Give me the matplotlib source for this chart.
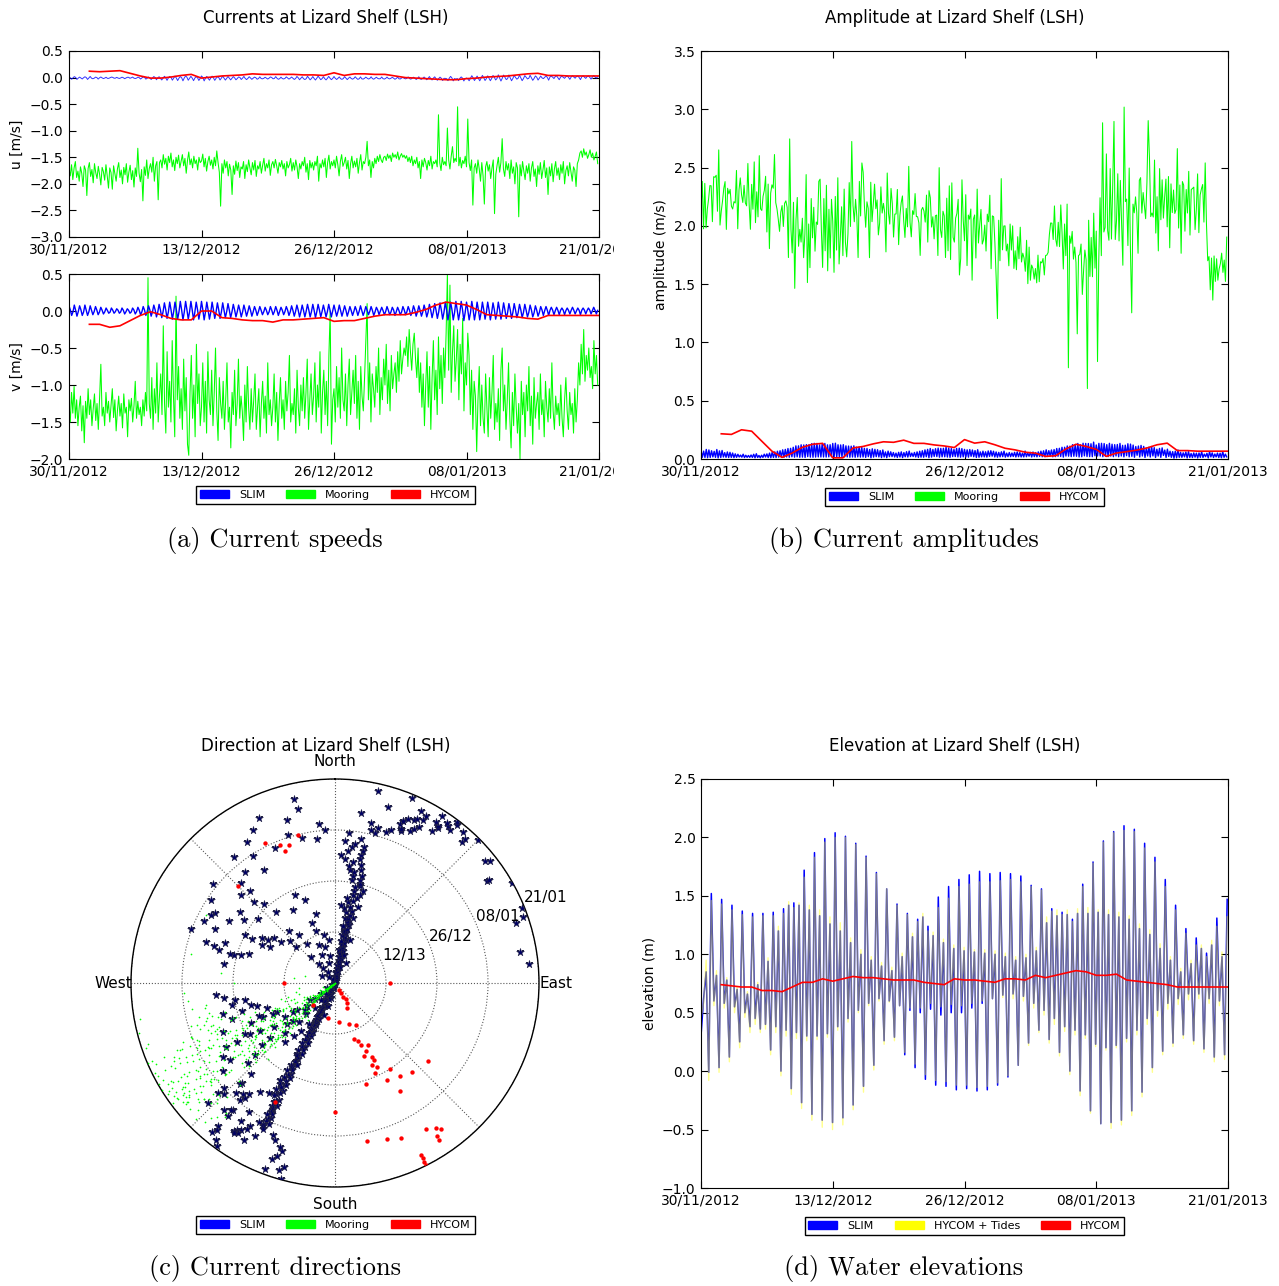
import numpy as np
import matplotlib.pyplot as plt
from matplotlib.patches import Patch
from matplotlib.transforms import Bbox, TransformedBbox
from datetime import datetime, timedelta

# ---- time axis ------------------------------------------------------------
start = datetime(2012, 11, 30)
tick_days = [0, 13, 26, 39, 52]
tick_labels = [(start + timedelta(days=d)).strftime('%d/%m/%Y') for d in tick_days]
ring_labels = ['12/13', '26/12', '08/01', '21/01']

# ---- SLIM currents: one entry per tidal cycle (flood, slack, ebb, slack) ---
slim_v_flood = [0.07, 0.08, 0.07, 0.08, 0.07, 0.06, 0.05, 0.04, 0.04, 0.03,
                0.04, 0.03, 0.04, 0.05, 0.06, 0.07, 0.08, 0.09, 0.11, 0.12,
                0.12, 0.13, 0.13, 0.13, 0.12, 0.13, 0.12, 0.12, 0.11, 0.11,
                0.10, 0.09, 0.08, 0.08, 0.07, 0.06, 0.06, 0.05, 0.06, 0.06,
                0.05, 0.06, 0.07, 0.08, 0.08, 0.09, 0.09, 0.09, 0.08, 0.09,
                0.08, 0.08, 0.07, 0.06, 0.06, 0.07, 0.06, 0.06, 0.05, 0.05,
                0.06, 0.05, 0.05, 0.06, 0.06, 0.07, 0.07, 0.08, 0.09, 0.10,
                0.11, 0.12, 0.12, 0.13, 0.13, 0.12, 0.13, 0.12, 0.12, 0.12,
                0.11, 0.12, 0.11, 0.10, 0.10, 0.09, 0.09, 0.08, 0.07, 0.06,
                0.06, 0.05, 0.05, 0.04, 0.04, 0.05, 0.04, 0.04, 0.04, 0.05]
slim_u_flood = [0.012, 0.018, 0.009, 0.015, 0.021, 0.008, 0.011, 0.006, 0.009, 0.004,
                0.007, 0.005, 0.010, 0.008, 0.013, 0.011, 0.019, 0.016, 0.024, 0.021,
                0.028, 0.019, 0.032, 0.024, 0.017, 0.030, 0.022, 0.027, 0.015, 0.026,
                0.021, 0.018, 0.012, 0.022, 0.016, 0.009, 0.014, 0.006, 0.012, 0.018,
                0.008, 0.013, 0.010, 0.021, 0.016, 0.025, 0.019, 0.028, 0.017, 0.023,
                0.020, 0.013, 0.017, 0.010, 0.015, 0.012, 0.008, 0.014, 0.006, 0.011,
                0.009, 0.004, 0.010, 0.003, 0.012, 0.007, 0.015, 0.010, 0.019, 0.014,
                0.008, -0.015, 0.022, -0.030, 0.012, -0.008, 0.035, 0.028, 0.041, 0.033,
                0.040, 0.052, 0.047, 0.049, 0.041, 0.046, 0.038, 0.043, 0.031, 0.029,
                0.030, 0.027, 0.033, 0.025, 0.030, 0.036, 0.028, 0.034, 0.031, 0.038]
slim_v_ebb = [-0.06, -0.07, -0.06, -0.06, -0.05, -0.05, -0.04, -0.03, -0.03, -0.03,
              -0.04, -0.03, -0.04, -0.05, -0.06, -0.07, -0.08, -0.09, -0.10, -0.11,
              -0.11, -0.12, -0.11, -0.12, -0.11, -0.12, -0.11, -0.10, -0.10, -0.09,
              -0.09, -0.08, -0.08, -0.07, -0.07, -0.06, -0.05, -0.05, -0.05, -0.06,
              -0.05, -0.06, -0.07, -0.08, -0.08, -0.08, -0.09, -0.08, -0.08, -0.08,
              -0.07, -0.07, -0.07, -0.06, -0.06, -0.06, -0.05, -0.06, -0.05, -0.05,
              -0.05, -0.06, -0.05, -0.05, -0.06, -0.07, -0.07, -0.08, -0.09, -0.10,
              -0.11, -0.12, -0.12, -0.12, -0.13, -0.12, -0.12, -0.12, -0.11, -0.12,
              -0.11, -0.11, -0.10, -0.10, -0.09, -0.09, -0.08, -0.08, -0.07, -0.06,
              -0.06, -0.05, -0.05, -0.05, -0.04, -0.04, -0.05, -0.04, -0.04, -0.04]
slim_u_ebb = [-0.031, -0.034, -0.026, -0.035, -0.022, -0.028, -0.019, -0.015, -0.012, -0.017,
              -0.021, -0.013, -0.018, -0.027, -0.029, -0.036, -0.041, -0.045, -0.052, -0.049,
              -0.056, -0.061, -0.050, -0.058, -0.054, -0.063, -0.049, -0.052, -0.046, -0.047,
              -0.044, -0.042, -0.036, -0.038, -0.033, -0.031, -0.024, -0.028, -0.023, -0.032,
              -0.026, -0.029, -0.035, -0.041, -0.037, -0.043, -0.046, -0.040, -0.044, -0.039,
              -0.036, -0.033, -0.038, -0.030, -0.034, -0.029, -0.027, -0.031, -0.024, -0.028,
              -0.025, -0.032, -0.027, -0.024, -0.030, -0.036, -0.033, -0.041, -0.045, -0.050,
              -0.055, -0.058, -0.062, -0.057, -0.064, -0.060, -0.056, -0.061, -0.055, -0.059,
              -0.045, -0.065, -0.038, -0.060, -0.030, -0.058, -0.025, -0.052, -0.047, -0.020,
              -0.049, -0.018, -0.040, -0.014, -0.033, -0.012, -0.038, -0.015, -0.029, -0.011]
slim_u_slack1 = [-0.004, 0.003, -0.008, 0.002, -0.012, 0.001, -0.006, -0.015, 0.004, -0.009,
                 -0.003, 0.005, -0.011, -0.002, 0.004, -0.007, 0.002, -0.013, -0.005, 0.003,
                 -0.008, -0.002, 0.006, -0.010, -0.004, 0.003, -0.014, -0.006, 0.002, -0.009,
                 -0.012, -0.005, 0.002, -0.016, -0.008, -0.003, -0.018, -0.011, 0.001, -0.014,
                 -0.019, -0.007, -0.013, -0.004, -0.021, -0.010, -0.017, -0.006, -0.020, -0.012,
                 -0.015, -0.022, -0.009, -0.018, -0.013, -0.024, -0.011, -0.019, -0.016, -0.021,
                 -0.017, -0.012, -0.023, -0.015, -0.020, -0.010, -0.025, -0.014, -0.019, -0.022,
                 -0.013, -0.021, -0.008, -0.018, -0.011, -0.024, -0.006, -0.016, -0.002, -0.012,
                 0.004, -0.010, 0.006, -0.005, 0.002, -0.008, 0.005, -0.003, 0.007, -0.006,
                 0.003, 0.008, -0.002, 0.006, 0.004, 0.009, 0.002, 0.007, 0.005, 0.010]
slim_v_slack1 = [0.014, 0.011, 0.016, 0.009, 0.012, 0.013, 0.010, 0.008, 0.012, 0.011,
                 0.010, 0.009, 0.013, 0.011, 0.012, 0.015, 0.017, 0.014, 0.018, 0.016,
                 0.019, 0.015, 0.017, 0.014, 0.018, 0.016, 0.013, 0.017, 0.015, 0.012,
                 0.011, 0.013, 0.010, 0.012, 0.009, 0.011, 0.010, 0.008, 0.012, 0.009,
                 0.010, 0.012, 0.008, 0.011, 0.007, 0.012, 0.009, 0.013, 0.006, 0.010,
                 0.008, 0.006, 0.010, 0.005, 0.009, 0.004, 0.011, 0.007, 0.012, 0.006,
                 0.010, 0.013, 0.007, 0.014, 0.009, 0.016, 0.008, 0.015, 0.011, 0.012,
                 0.016, 0.010, 0.018, 0.012, 0.017, 0.009, 0.019, 0.013, 0.020, 0.015,
                 0.018, 0.016, 0.014, 0.017, 0.013, 0.015, 0.012, 0.014, 0.011, 0.013,
                 0.010, 0.012, 0.009, 0.011, 0.008, 0.010, 0.009, 0.011, 0.012, 0.010]
slim_u_slack2 = [-0.006, -0.010, -0.003, -0.008, -0.012, -0.005, -0.009, -0.004, -0.011, -0.007,
                 -0.008, -0.004, -0.010, -0.006, -0.013, -0.009, -0.005, -0.012, -0.007, -0.010,
                 -0.011, -0.007, -0.014, -0.009, -0.016, -0.012, -0.008, -0.013, -0.010, -0.015,
                 -0.013, -0.018, -0.010, -0.016, -0.012, -0.019, -0.014, -0.011, -0.017, -0.020,
                 -0.016, -0.012, -0.019, -0.014, -0.021, -0.017, -0.013, -0.020, -0.015, -0.018,
                 -0.014, -0.019, -0.011, -0.017, -0.022, -0.015, -0.018, -0.012, -0.020, -0.016,
                 -0.012, -0.017, -0.009, -0.015, -0.011, -0.018, -0.013, -0.016, -0.010, -0.019,
                 -0.015, -0.011, -0.018, -0.013, -0.020, -0.014, -0.017, -0.012, -0.019, -0.016,
                 -0.018, -0.013, -0.021, -0.016, -0.012, -0.019, -0.014, -0.017, -0.011, 0.006,
                 0.012, 0.018, 0.009, 0.015, 0.011, 0.020, 0.014, 0.017, 0.010, 0.016]
slim_v_slack2 = [-0.012, -0.009, -0.014, -0.010, -0.008, -0.013, -0.011, -0.015, -0.009, -0.012,
                 -0.010, -0.013, -0.008, -0.012, -0.009, -0.011, -0.014, -0.010, -0.013, -0.009,
                 -0.012, -0.015, -0.010, -0.014, -0.011, -0.013, -0.016, -0.012, -0.014, -0.010,
                 -0.011, -0.009, -0.013, -0.008, -0.012, -0.007, -0.010, -0.013, -0.008, -0.006,
                 -0.007, -0.010, -0.005, -0.009, -0.004, -0.008, -0.011, -0.006, -0.009, -0.003,
                 -0.008, -0.004, -0.010, -0.006, -0.003, -0.009, -0.005, -0.011, -0.002, -0.007,
                 -0.013, -0.010, -0.015, -0.011, -0.016, -0.012, -0.014, -0.017, -0.013, -0.015,
                 -0.018, -0.014, -0.020, -0.016, -0.019, -0.021, -0.017, -0.022, -0.018, -0.020,
                 -0.022, -0.019, -0.024, -0.020, -0.023, -0.018, -0.021, -0.025, -0.019, 0.004,
                 0.008, 0.003, 0.010, 0.005, 0.009, 0.002, 0.011, 0.006, 0.004, 0.009]

# ---- Mooring currents, 3-hourly (one row = one day) -----------------------
mooring_u = [
    -1.72, -1.85, -1.64, -1.92, -1.70, -1.58, -1.88, -1.76,
    -1.95, -1.68, -1.80, -2.05, -1.66, -1.74, -2.22, -1.71,
    -1.60, -1.86, -1.73, -1.98, -1.62, -1.79, -1.90, -1.67,
    -1.82, -2.02, -1.69, -1.77, -1.93, -1.64, -1.85, -2.08,
    -1.70, -1.79, -2.10, -1.66, -1.81, -1.95, -1.72, -1.60,
    -1.88, -1.74, -2.00, -1.69, -1.83, -1.62, -1.97, -1.78,
    -1.65, -1.92, -1.75, -2.06, -1.70, -1.86, -1.33, -1.80,
    -1.96, -1.73, -2.32, -1.68, -1.84, -1.55, -1.90, -1.71,
    -1.62, -1.78, -1.50, -1.95, -1.66, -1.58, -2.30, -1.60,
    -1.55, -1.70, -1.45, -1.63, -1.52, -1.74, -1.48, -1.60,
    -1.42, -1.68, -1.55, -1.75, -1.50, -1.62, -1.46, -1.70,
    -1.58, -1.45, -1.66, -1.52, -1.80, -1.56, -1.40, -1.64,
    -1.53, -1.70, -1.48, -1.62, -1.55, -1.74, -1.50, -1.60,
    -1.57, -1.44, -1.68, -1.52, -1.76, -1.58, -1.48, -1.65,
    -1.55, -1.72, -1.50, -1.66, -1.38, -1.60, -1.78, -2.42,
    -1.62, -1.80, -1.55, -1.70, -1.58, -1.85, -1.63, -1.74,
    -2.20, -1.66, -1.82, -1.57, -1.75, -1.60, -1.88, -1.68,
    -1.72, -1.58, -1.90, -1.64, -1.77, -1.55, -1.70, -1.83,
    -1.60, -1.74, -1.56, -1.86, -1.66, -1.72, -1.58, -1.80,
    -1.65, -1.52, -1.76, -1.62, -1.70, -1.55, -1.84, -1.64,
    -1.58, -1.70, -1.54, -1.66, -1.80, -1.60, -1.68, -1.56,
    -1.72, -1.62, -1.85, -1.58, -1.70, -1.64, -1.52, -1.76,
    -1.60, -1.74, -1.55, -1.68, -1.90, -1.62, -1.72, -1.58,
    -1.66, -1.50, -1.78, -1.62, -1.92, -1.56, -1.70, -1.60,
    -1.74, -1.58, -1.66, -1.48, -1.95, -1.62, -1.70, -1.55,
    -1.68, -1.52, -1.88, -1.60, -1.46, -1.72, -1.58, -1.66,
    -1.55, -1.70, -1.48, -1.64, -1.85, -1.58, -1.45, -1.67,
    -1.60, -1.50, -1.72, -1.56, -1.90, -1.62, -1.48, -1.70,
    -1.57, -1.68, -1.52, -1.80, -1.60, -1.45, -1.74, -1.58,
    -1.62, -1.50, -1.20, -1.66, -1.55, -1.88, -1.58, -1.70,
    -1.52, -1.62, -1.48, -1.58, -1.45, -1.55, -1.60, -1.50,
    -1.48, -1.56, -1.44, -1.52, -1.46, -1.58, -1.42, -1.50,
    -1.45, -1.52, -1.40, -1.55, -1.48, -1.43, -1.50, -1.46,
    -1.52, -1.47, -1.58, -1.50, -1.60, -1.48, -1.66, -1.55,
    -1.62, -1.50, -1.70, -1.58, -1.90, -1.55, -1.68, -1.52,
    -1.60, -1.74, -1.56, -1.66, -1.48, -1.72, -1.58, -1.62,
    -1.55, -1.68, -0.70, -1.60, -1.75, -1.50, -1.64, -1.58,
    -1.66, -0.95, -1.55, -1.72, -1.48, -1.30, -1.60, -1.52,
    -1.58, -0.55, -1.66, -1.50, -1.70, -1.56, -1.62, -1.48,
    -1.68, -0.78, -1.60, -1.75, -1.55, -2.40, -1.70, -1.62,
    -1.80, -1.55, -1.72, -1.95, -1.60, -1.85, -2.38, -1.68,
    -1.58, -1.76, -1.64, -1.90, -1.70, -1.55, -2.56, -1.82,
    -1.65, -1.50, -1.78, -1.60, -1.15, -1.72, -1.86, -1.58,
    -1.74, -1.62, -1.90, -1.55, -1.80, -1.68, -2.00, -1.60,
    -1.70, -2.62, -1.64, -1.85, -1.58, -1.76, -1.92, -1.66,
    -1.80, -1.62, -1.95, -1.70, -1.58, -1.86, -1.72, -2.05,
    -1.66, -1.82, -1.60, -1.90, -1.74, -1.56, -1.88, -1.70,
    -2.20, -1.68, -1.85, -1.62, -1.96, -1.72, -1.58, -1.84,
    -1.70, -1.92, -1.64, -1.80, -1.58, -2.00, -1.75, -1.66,
    -1.85, -1.60, -1.78, -1.95, -1.68, -1.74, -2.05, -1.62,
    -1.55, -1.42, -1.38, -1.50, -1.34, -1.46, -1.40, -1.52,
    -1.45, -1.36, -1.50, -1.42, -1.55, -1.48, -1.40, -1.62]
mooring_v = [
    -1.25, -1.50, -1.10, -1.38, -1.02, -1.45, -1.20, -1.55,
    -1.30, -1.15, -1.62, -1.28, -1.78, -1.22, -1.45, -1.05,
    -1.40, -1.20, -1.55, -1.32, -1.12, -1.48, -1.25, -1.60,
    -1.18, -0.72, -1.42, -1.30, -1.55, -1.10, -1.38, -1.22,
    -1.50, -1.28, -1.05, -1.44, -1.20, -1.62, -1.35, -1.15,
    -1.42, -1.25, -1.58, -1.12, -1.38, -1.30, -1.70, -1.20,
    -1.35, -1.18, -1.50, -1.28, -0.95, -1.45, -1.22, -1.40,
    -1.30, -1.55, -1.20, -1.42, -1.10, -1.35, 0.45, -1.25,
    -1.45, -0.90, -1.60, -1.05, -1.38, -0.70, -1.50, -1.15,
    -0.85, -1.40, -0.20, -1.25, -1.65, -0.55, -1.30, -0.95,
    -1.50, -0.40, -1.15, -1.70, 0.20, -1.20, -0.75, -1.45,
    -1.05, -1.60, -0.65, -1.35, -0.90, -1.80, -1.95, -1.10,
    -0.60, -1.45, -1.00, -1.70, -0.45, -1.25, -0.85, -1.55,
    -1.30, -0.70, -1.50, -0.95, -1.65, -0.55, -1.20, -1.40,
    -0.80, -1.55, -1.10, -0.50, -1.35, -1.75, -0.90, -1.25,
    -1.45, -0.95, -1.60, -1.20, -0.70, -1.50, -1.30, -1.85,
    -1.10, -1.40, -0.80, -1.55, -1.25, -0.65, -1.45, -1.15,
    -1.35, -1.75, -1.00, -1.50, -0.75, -1.30, -1.60, -1.05,
    -1.50, -1.20, -0.85, -1.60, -1.30, -1.05, -1.70, -1.25,
    -0.95, -1.45, -1.15, -1.65, -0.70, -1.40, -1.20, -1.55,
    -1.30, -0.85, -1.50, -1.10, -1.75, -1.25, -0.90, -1.45,
    -1.20, -1.60, -0.95, -1.35, -1.10, -0.60, -1.50, -1.25,
    -1.40, -1.05, -1.65, -0.80, -1.30, -1.55, -1.00, -1.35,
    -0.90, -1.45, -1.10, -0.65, -1.60, -1.20, -0.85, -1.40,
    -1.15, -0.70, -1.50, -1.00, -1.30, -0.55, -1.65, -1.10,
    -0.80, -1.40, -0.95, -1.55, -0.60, 0.00, -1.80, -1.20,
    -1.05, -1.50, -0.75, -1.30, -0.90, -1.45, -0.50, -1.20,
    -1.35, -0.85, -1.55, -1.00, -0.65, -1.40, -1.10, -0.80,
    -1.25, -0.60, -1.45, -0.95, -1.60, -0.75, -1.15, -1.35,
    -0.90, -0.40, 0.10, -1.20, -0.70, -1.50, -0.85, -1.05,
    -1.30, -0.75, -1.10, -0.50, -1.40, -0.90, -1.20, -0.65,
    -1.00, -0.45, -1.25, -0.80, -1.35, -0.60, -1.05, -0.85,
    -0.70, -1.10, -0.55, -0.95, -0.40, -0.85, -0.65, -0.50,
    -0.60, -0.35, -0.75, -0.25, -0.55, -0.80, -0.45, -0.30,
    -0.65, -0.90, -0.50, -1.10, -0.70, -1.30, -0.85, -1.55,
    -1.00, -0.55, -1.30, -0.75, -1.60, -0.90, -0.40, -1.20,
    -0.80, -1.40, -0.35, -1.05, -0.60, -1.25, -0.50, -0.90,
    -0.30, 0.50, -0.80, 0.35, -1.10, -0.55, -0.20, -0.95,
    -0.65, -0.25, -1.20, -0.45, -0.85, -0.10, -1.35, -0.70,
    -1.00, -0.30, -0.60, -1.40, -0.80, -1.60, -0.95, -1.15,
    -1.90, -1.20, -0.75, -1.55, -1.00, -1.45, -1.65, -0.85,
    -1.30, -1.70, -0.90, -1.45, -1.10, -0.60, -1.60, -1.25,
    -1.50, -1.05, -1.75, -0.80, -0.50, -1.35, -1.00, -1.60,
    -1.20, -0.70, -1.45, -1.85, -1.10, -1.55, -0.85, -1.30,
    -1.65, -1.25, -2.00, -0.95, -1.40, -1.10, -1.70, -1.00,
    -1.35, -0.75, -1.55, -1.15, -1.80, -0.90, -1.45, -1.25,
    -1.10, -1.60, -0.85, -1.40, -1.20, -1.70, -0.95, -1.30,
    -1.50, -1.05, -1.45, -0.70, -1.35, -1.60, -1.15, -1.40,
    -1.25, -1.55, -1.00, -1.45, -1.70, -1.20, -0.90, -1.35,
    -1.60, -1.10, -1.40, -1.25, -1.65, -1.05, -1.50, -1.20,
    -0.70, -1.00, -0.45, -0.85, -0.25, -0.95, -0.60, -0.80,
    -0.50, -0.90, -0.75, -1.05, -0.40, -0.85, -0.60, -1.00]

# ---- HYCOM daily values (days 2..52) ---------------------------------------
hycom_u = [0.12, 0.11, 0.12, 0.13, 0.08, 0.03, -0.01, -0.01, 0.01, 0.04,
           0.06, -0.01, 0.01, 0.03, 0.04, 0.05, 0.07, 0.06, 0.06, 0.06,
           0.06, 0.05, 0.05, 0.04, 0.09, 0.04, 0.07, 0.07, 0.06, 0.06,
           0.03, 0.00, -0.01, -0.02, -0.03, -0.04, -0.04, -0.02, -0.01, 0.01,
           0.02, 0.03, 0.05, 0.07, 0.08, 0.04, 0.04, 0.03, 0.03, 0.03, 0.03]
hycom_v = [-0.18, -0.18, -0.22, -0.20, -0.13, -0.06, -0.01, -0.05, -0.10, -0.12,
           -0.12, 0.00, 0.00, -0.09, -0.10, -0.12, -0.13, -0.13, -0.15, -0.12,
           -0.12, -0.11, -0.10, -0.09, -0.14, -0.13, -0.13, -0.10, -0.07, -0.05,
           -0.05, -0.05, -0.02, 0.02, 0.08, 0.12, 0.10, 0.08, 0.02, -0.05,
           -0.06, -0.07, -0.08, -0.10, -0.11, -0.06, -0.06, -0.06, -0.06, -0.06, -0.06]
hycom_elev = [0.74, 0.73, 0.72, 0.72, 0.69, 0.69, 0.68, 0.72, 0.76, 0.76,
              0.79, 0.77, 0.79, 0.81, 0.80, 0.80, 0.79, 0.78, 0.78, 0.78,
              0.76, 0.75, 0.74, 0.79, 0.78, 0.78, 0.77, 0.76, 0.79, 0.79,
              0.78, 0.82, 0.80, 0.82, 0.84, 0.86, 0.85, 0.82, 0.82, 0.83,
              0.78, 0.77, 0.76, 0.75, 0.74, 0.72, 0.72, 0.72, 0.72, 0.72, 0.72]

# ---- elevation extremes per lunar day: higher high, low, lower high, low ---
slim_hh = [0.30, 1.52, 1.47, 1.42, 1.37, 1.35, 1.35, 1.36, 1.39, 1.44,
           1.72, 1.87, 1.99, 2.04, 2.01, 1.95, 1.84, 1.70, 1.56, 1.43,
           1.35, 1.30, 1.24, 1.49, 1.58, 1.64, 1.68, 1.71, 1.69, 1.70,
           1.69, 1.67, 1.59, 1.56, 1.39, 1.36, 1.30, 1.60, 1.79, 1.97,
           2.05, 2.10, 2.07, 1.95, 1.83, 1.64, 1.42, 1.22, 1.14, 1.01, 1.31, 1.47]
slim_la = [0.62, 0.60, 0.58, 0.55, 0.50, 0.45, 0.40, 0.38, 0.35, 0.33,
           0.30, 0.30, 0.32, 0.38, 0.45, 0.52, 0.58, 0.62, 0.60, 0.56,
           0.52, 0.50, 0.53, 0.48, 0.50, 0.50, 0.54, 0.58, 0.62, 0.65,
           0.66, 0.64, 0.58, 0.52, 0.45, 0.38, 0.35, 0.31, 0.23, 0.20,
           0.22, 0.28, 0.35, 0.45, 0.52, 0.58, 0.62, 0.66, 0.66, 0.62, 0.60]
slim_lh = [0.85, 0.82, 0.78, 0.70, 0.66, 0.74, 0.94, 1.20, 1.42, 1.42,
           1.38, 1.33, 1.26, 1.20, 1.10, 1.00, 0.95, 0.90, 0.86, 0.98,
           1.15, 1.32, 1.16, 1.10, 1.05, 1.03, 1.02, 1.01, 1.00, 0.98,
           0.95, 0.97, 1.03, 1.27, 1.33, 1.34, 1.35, 1.35, 1.36, 1.34,
           1.32, 1.30, 1.22, 1.17, 1.05, 0.95, 0.85, 0.92, 1.05, 1.08, 0.98]
slim_lb = [-0.01, 0.03, 0.12, 0.25, 0.38, 0.36, 0.18, 0.00, -0.15, -0.27,
           -0.37, -0.42, -0.44, -0.40, -0.29, -0.13, 0.05, 0.26, 0.29, 0.14,
           0.03, -0.07, -0.12, -0.13, -0.16, -0.15, -0.17, -0.16, -0.12, -0.05,
           0.05, 0.24, 0.35, 0.27, 0.16, 0.00, -0.17, -0.34, -0.45, -0.44,
           -0.42, -0.34, -0.18, 0.03, 0.17, 0.24, 0.31, 0.26, 0.19, 0.12, 0.14]
tides_hh = [0.45, 1.46, 1.43, 1.38, 1.34, 1.32, 1.33, 1.33, 1.35, 1.40,
            1.66, 1.83, 1.96, 2.00, 2.00, 1.94, 1.83, 1.69, 1.56, 1.42,
            1.34, 1.28, 1.20, 1.40, 1.48, 1.58, 1.60, 1.62, 1.62, 1.63,
            1.64, 1.62, 1.58, 1.55, 1.37, 1.34, 1.28, 1.58, 1.78, 1.96,
            2.04, 2.06, 2.05, 1.91, 1.79, 1.58, 1.38, 1.18, 1.08, 0.98, 1.24, 1.32]
tides_la = [0.58, 0.56, 0.54, 0.50, 0.46, 0.40, 0.36, 0.33, 0.30, 0.28,
            0.26, 0.27, 0.29, 0.35, 0.42, 0.50, 0.56, 0.60, 0.59, 0.56,
            0.54, 0.54, 0.58, 0.55, 0.57, 0.56, 0.58, 0.60, 0.62, 0.63,
            0.62, 0.60, 0.54, 0.48, 0.40, 0.34, 0.31, 0.28, 0.21, 0.18,
            0.20, 0.25, 0.31, 0.40, 0.47, 0.53, 0.57, 0.61, 0.62, 0.58, 0.56]
tides_lh = [0.95, 0.86, 0.80, 0.72, 0.68, 0.76, 0.97, 1.24, 1.45, 1.44,
            1.42, 1.38, 1.32, 1.27, 1.14, 1.04, 0.98, 0.93, 0.89, 1.01,
            1.18, 1.35, 1.19, 1.13, 1.08, 1.06, 1.04, 1.04, 1.03, 1.01,
            0.98, 1.00, 1.06, 1.32, 1.38, 1.38, 1.39, 1.40, 1.38, 1.38,
            1.36, 1.33, 1.26, 1.21, 1.09, 0.98, 0.88, 0.95, 1.08, 1.12, 1.02]
tides_lb = [-0.08, -0.01, 0.08, 0.20, 0.33, 0.33, 0.14, -0.04, -0.20, -0.32,
            -0.42, -0.48, -0.50, -0.46, -0.33, -0.18, 0.01, 0.23, 0.26, 0.16,
            0.06, -0.03, -0.08, -0.09, -0.12, -0.12, -0.14, -0.13, -0.10, -0.04,
            0.05, 0.22, 0.33, 0.24, 0.13, -0.03, -0.21, -0.36, -0.45, -0.49,
            -0.46, -0.38, -0.22, -0.01, 0.14, 0.21, 0.28, 0.23, 0.16, 0.08, 0.10]


def interleave(*cols):
    return np.column_stack(cols).ravel()


def tide_series(hh, la, lh, lb):
    body = interleave(hh[:-1], la, lh, lb)
    return np.append(body, hh[-1])


slim_u = interleave(slim_u_flood, slim_u_slack1, slim_u_ebb, slim_u_slack2)
slim_v = interleave(slim_v_flood, slim_v_slack1, slim_v_ebb, slim_v_slack2)
t_slim = np.arange(len(slim_u)) * 0.13
t_moor = np.arange(len(mooring_u)) / 8.0
t_hycom = np.arange(2, 2 + len(hycom_u))

mooring_u = np.array(mooring_u)
mooring_v = np.array(mooring_v)
hycom_u = np.array(hycom_u)
hycom_v = np.array(hycom_v)

elev_slim = tide_series(slim_hh, slim_la, slim_lh, slim_lb)
elev_tides = tide_series(tides_hh, tides_la, tides_lh, tides_lb)
t_elev = np.arange(len(elev_slim)) * 0.2545

BLUE, GREEN, RED, YELLOW = '#0000ff', '#00ff00', '#ff0000', '#ffff00'
TITLE_SIZE = 12

fig = plt.figure(figsize=(12.79, 12.86), dpi=100)


def fy(py):
    return 1 - py / 1286.0


def fx(px):
    return px / 1279.0


def style_axis(ax, ylim, yticks):
    ax.set_xlim(0, 52)
    ax.set_ylim(*ylim)
    ax.set_yticks(yticks)
    ax.set_xticks(tick_days)
    ax.set_xticklabels(tick_labels)
    ax.tick_params(direction='in', top=True, right=True, labelsize=10,
                   length=5, pad=4)


def add_legend(labels, colors, center):
    handles = [Patch(facecolor=c, edgecolor=c, label=l) for l, c in zip(labels, colors)]
    leg = fig.legend(handles=handles, loc='center', bbox_to_anchor=center,
                     bbox_transform=fig.transFigure, ncol=3, fontsize=8,
                     fancybox=False, edgecolor='black', framealpha=1,
                     handlelength=2.6, handleheight=0.8, columnspacing=1.9,
                     borderpad=0.35, handletextpad=0.9)
    leg.get_frame().set_linewidth(1.0)


def panel_title(text, px, py):
    fig.text(fx(px), fy(py), text, ha='center', va='center', fontsize=TITLE_SIZE)


# (a) u and v components
ax_u = fig.add_axes([fx(69), fy(237), fx(530), 186 / 1286.0])
ax_u.plot(t_moor, mooring_u, color=GREEN, lw=0.75)
ax_u.plot(t_slim, slim_u, color=BLUE, lw=0.7, alpha=0.8)
ax_u.plot(t_hycom, hycom_u, color=RED, lw=1.2)
style_axis(ax_u, (-3.0, 0.5), np.arange(-3.0, 0.51, 0.5))
ax_u.set_ylabel('u [m/s]', fontsize=10)
panel_title('Currents at Lizard Shelf (LSH)', 326, 18)

ax_v = fig.add_axes([fx(69), fy(459), fx(530), 185 / 1286.0])
ax_v.plot(t_moor, mooring_v, color=GREEN, lw=0.75)
ax_v.plot(t_slim, slim_v, color=BLUE, lw=1.0)
ax_v.plot(t_hycom, hycom_v, color=RED, lw=1.2)
style_axis(ax_v, (-2.0, 0.5), np.arange(-2.0, 0.51, 0.5))
ax_v.set_ylabel('v [m/s]', fontsize=10)
add_legend(['SLIM', 'Mooring', 'HYCOM'], [BLUE, GREEN, RED], (fx(335.5), fy(495)))

# (b) current amplitude
ax_b = fig.add_axes([fx(701), fy(459), fx(527), 408 / 1286.0])
ax_b.plot(t_moor, np.hypot(mooring_u, mooring_v), color=GREEN, lw=0.75)
ax_b.plot(t_slim, np.hypot(slim_u, slim_v), color=BLUE, lw=1.0)
ax_b.plot(t_hycom, np.hypot(hycom_u, hycom_v), color=RED, lw=1.2)
style_axis(ax_b, (0.0, 3.5), np.arange(0.0, 3.51, 0.5))
ax_b.set_ylabel('amplitude (m/s)', fontsize=10)
panel_title('Amplitude at Lizard Shelf (LSH)', 955, 18)
add_legend(['SLIM', 'Mooring', 'HYCOM'], [BLUE, GREEN, RED], (fx(964.5), fy(497)))

# (c) current direction: compass angle against time
ax_c = fig.add_axes([fx(131), fy(1187), fx(408), 408 / 1286.0], projection='polar')
ax_c.set_theta_zero_location('N')
ax_c.set_theta_direction(-1)
ax_c.scatter(np.arctan2(slim_u, slim_v), t_slim, marker='*', s=34,
             facecolor='#000066', edgecolor='#222244', linewidths=0.4, zorder=3)
ax_c.scatter(np.arctan2(mooring_u, mooring_v), t_moor, marker='.', s=6,
             color=GREEN, linewidths=0, zorder=4)
ax_c.scatter(np.arctan2(hycom_u, hycom_v), t_hycom, marker='o', s=10,
             color=RED, linewidths=0, zorder=5)
ax_c.set_ylim(0, 52)
ax_c.set_thetagrids(range(0, 360, 45),
                    ['North', '', 'East', '', 'South', '', 'West', ''], fontsize=11)
ax_c.tick_params(axis='x', pad=2)
ax_c.set_rgrids([13, 26, 39, 52], [''] * 4)
for r, lab in zip([13, 26, 39, 52], ring_labels):
    ax_c.text(np.deg2rad(67.5), r, lab, ha='left', va='bottom', fontsize=11)
ax_c.grid(True, linestyle=':', color='0.35', lw=0.8)
ax_c.spines['polar'].set_linewidth(1.0)
panel_title('Direction at Lizard Shelf (LSH)', 326, 746)
add_legend(['SLIM', 'Mooring', 'HYCOM'], [BLUE, GREEN, RED], (fx(335.5), fy(1225)))

# (d) water elevation
ax_d = fig.add_axes([fx(701), fy(1188), fx(527), 409 / 1286.0])
ax_d.plot(t_elev, elev_slim, color=BLUE, lw=1.1)
ax_d.plot(t_elev, elev_tides, color=YELLOW, lw=1.0, alpha=0.45)
ax_d.plot(t_hycom, hycom_elev, color=RED, lw=1.2)
style_axis(ax_d, (-1.0, 2.5), np.arange(-1.0, 2.51, 0.5))
ax_d.set_ylabel('elevation (m)', fontsize=10)
panel_title('Elevation at Lizard Shelf (LSH)', 955, 746)
add_legend(['SLIM', 'HYCOM + Tides', 'HYCOM'], [BLUE, YELLOW, RED], (fx(964.5), fy(1226)))

# sub-figure captions
caps = [('(a) Current speeds', 275, 541), ('(b) Current amplitudes', 904, 541),
        ('(c) Current directions', 275, 1269), ('(d) Water elevations', 904, 1269)]
for txt, px, py in caps:
    fig.text(fx(px), fy(py), txt, ha='center', va='center', fontsize=19,
             fontfamily='cmr10')

# the left column is cut at its own border
fig.canvas.draw()
clip = TransformedBbox(Bbox([[0, 0], [fx(614), 1]]), fig.transFigure)
for ax in (ax_u, ax_v):
    for lab in ax.get_xticklabels():
        lab.set_clip_box(clip)
        lab.set_clip_on(True)

fig.savefig('out.png', dpi=100)
